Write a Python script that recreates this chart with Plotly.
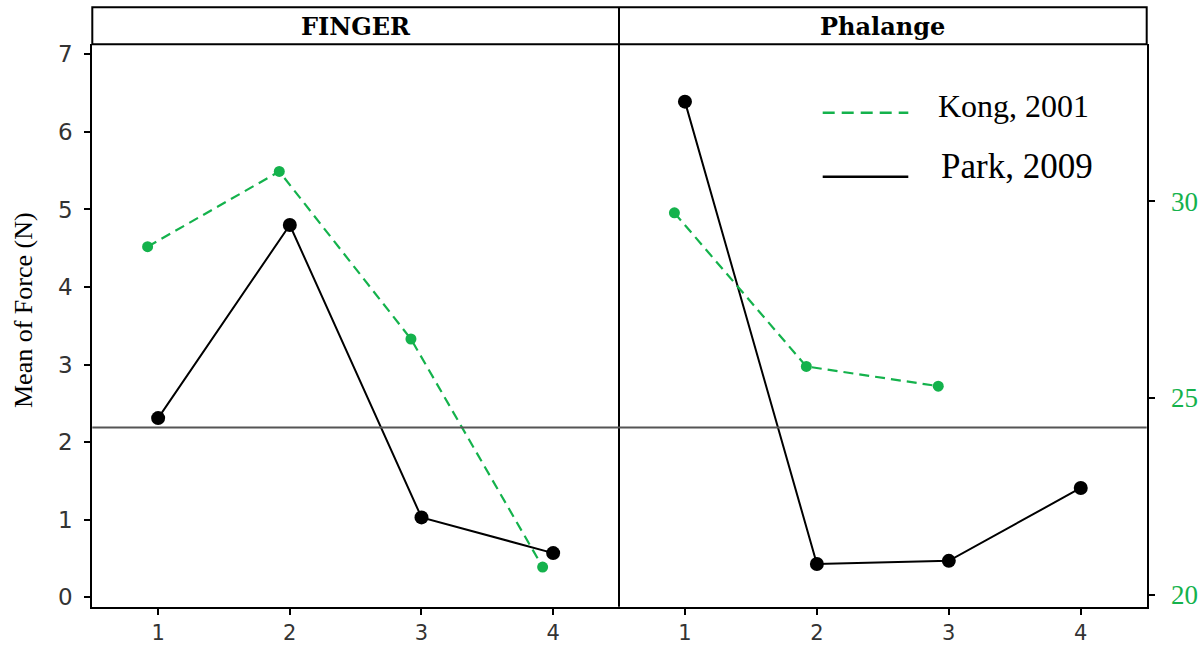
import plotly.graph_objects as go

# ---- data ----
categories = [1, 2, 3, 4]
tick_labels = ["1", "2", "3", "4"]
finger_park = [2.31, 4.80, 1.03, 0.57]
finger_kong = [4.52, 5.49, 3.33, 0.39]
phal_park = [6.39, 0.43, 0.47, 1.41]
phal_kong = [29.7, 25.8, 25.3]          # right (green) axis
ref_line = 2.19
panel_titles = ["FINGER", "Phalange"]
legend_names = ["Kong, 2001", "Park, 2009"]
y_title = "Mean of Force (N)"

# ---- styling ----
W, H = 1202, 647
GREEN = "#14B24C"
kong_dodge = -0.08
DASH = "10px,6px"

def px_x(p):
    return p / W

def px_y(p):
    return (H - p) / H

xl, xm, xr = px_x(92.3), px_x(619), px_x(1146.7)
yb, yt, ys = px_y(606.7), px_y(44.3), px_y(7.3)

fig = go.Figure()

# FINGER panel
fig.add_trace(go.Scatter(
    x=[c + kong_dodge for c in categories], y=finger_kong, mode="lines+markers",
    line=dict(color=GREEN, width=2.2, dash=DASH),
    marker=dict(color=GREEN, size=11), xaxis="x", yaxis="y", showlegend=False))
fig.add_trace(go.Scatter(
    x=categories, y=finger_park, mode="lines+markers",
    line=dict(color="black", width=2),
    marker=dict(color="black", size=14), xaxis="x", yaxis="y", showlegend=False))

# Phalange panel
fig.add_trace(go.Scatter(
    x=[c + kong_dodge for c in categories[:len(phal_kong)]], y=phal_kong, mode="lines+markers",
    line=dict(color=GREEN, width=2.2, dash=DASH),
    marker=dict(color=GREEN, size=11), xaxis="x2", yaxis="y3", showlegend=False))
fig.add_trace(go.Scatter(
    x=categories, y=phal_park, mode="lines+markers",
    line=dict(color="black", width=2),
    marker=dict(color="black", size=14), xaxis="x2", yaxis="y2", showlegend=False))

tickfont = dict(family="DejaVu Sans", size=23, color="#333333")
xtickfont = dict(family="DejaVu Sans", size=21, color="#333333")
xcommon = dict(range=[0.5, 4.5], tickvals=categories, ticktext=tick_labels,
               showline=True, linecolor="black", linewidth=2,
               ticks="outside", ticklen=6, tickwidth=2, tickcolor="black",
               showgrid=False, zeroline=False, tickfont=xtickfont, automargin=False,
               ticklabelstandoff=0)
yrange = [-0.121, 7.129]

fig.update_layout(
    width=W, height=H,
    margin=dict(l=0, r=0, t=0, b=0),
    paper_bgcolor="white", plot_bgcolor="white",
    showlegend=False,
    xaxis=dict(domain=[xl, xm], anchor="y", **xcommon),
    xaxis2=dict(domain=[xm, xr], anchor="y2", **xcommon),
    yaxis=dict(domain=[yb, yt], anchor="x", range=yrange, tickvals=list(range(0, 8)),
               showline=True, linecolor="black", linewidth=2,
               ticks="outside", ticklen=6, tickwidth=2, tickcolor="black",
               showgrid=False, zeroline=False, tickfont=tickfont, automargin=False,
               ticklabelstandoff=7),
    yaxis2=dict(domain=[yb, yt], anchor="x2", range=yrange, visible=False,
                showgrid=False, zeroline=False),
    yaxis3=dict(domain=[yb, yt], anchor="x2", overlaying="y2", side="right",
                range=[19.70, 33.98], tickvals=[20, 25, 30],
                showline=True, linecolor="black", linewidth=2,
                ticks="outside", ticklen=6, tickwidth=2, tickcolor="black",
                showgrid=False, zeroline=False, automargin=False,
                ticklabelstandoff=11,
                tickfont=dict(family="Liberation Serif", size=27, color=GREEN)),
)

shapes = [
    # strip box
    dict(type="rect", xref="paper", yref="paper", x0=xl, x1=xr, y0=yt, y1=ys,
         line=dict(color="black", width=2), fillcolor="rgba(0,0,0,0)"),
    # panel divider
    dict(type="line", xref="paper", yref="paper", x0=xm, x1=xm, y0=yb, y1=ys,
         line=dict(color="black", width=2)),
    # horizontal reference line
    dict(type="line", xref="paper", yref="y", x0=xl, x1=xr, y0=ref_line, y1=ref_line,
         line=dict(color="#555555", width=2)),
    # legend samples
    dict(type="line", xref="paper", yref="paper", x0=px_x(822.7), x1=px_x(908.3),
         y0=px_y(112.7), y1=px_y(112.7), line=dict(color=GREEN, width=2.4, dash="12px,7px")),
    dict(type="line", xref="paper", yref="paper", x0=px_x(822.7), x1=px_x(908.3),
         y0=px_y(176.7), y1=px_y(176.7), line=dict(color="black", width=2.4)),
]
fig.update_layout(shapes=shapes)

annotations = [
    dict(text="<b>%s</b>" % panel_titles[0], xref="paper", yref="paper",
         x=(xl + xm) / 2, y=px_y(26), xanchor="center", yanchor="middle", showarrow=False,
         font=dict(family="DejaVu Serif", size=24, color="black")),
    dict(text="<b>%s</b>" % panel_titles[1], xref="paper", yref="paper",
         x=(xm + xr) / 2, y=px_y(26), xanchor="center", yanchor="middle", showarrow=False,
         font=dict(family="DejaVu Serif", size=24, color="black")),
    dict(text=legend_names[0], xref="paper", yref="paper", x=px_x(936), y=px_y(106),
         xanchor="left", yanchor="middle", showarrow=False,
         font=dict(family="Liberation Serif", size=32, color="black")),
    dict(text=legend_names[1], xref="paper", yref="paper", x=px_x(939), y=px_y(166),
         xanchor="left", yanchor="middle", showarrow=False,
         font=dict(family="Liberation Serif", size=35, color="black")),
    dict(text=y_title, xref="paper", yref="paper", x=px_x(23), y=px_y(310),
         xanchor="center", yanchor="middle", showarrow=False, textangle=-90,
         font=dict(family="Liberation Serif", size=26, color="black")),
]
fig.update_layout(annotations=annotations)

fig.write_html("out.html")
